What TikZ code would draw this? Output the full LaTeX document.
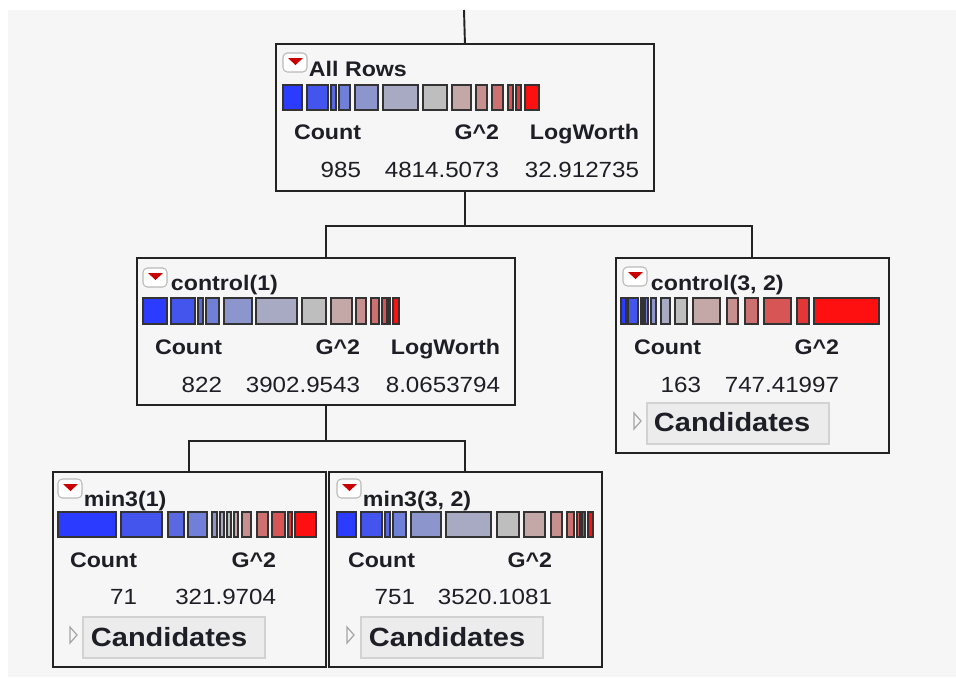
\documentclass[tikz,border=0pt]{standalone}
\usepackage{fontspec}
\setmainfont[FakeStretch=1.1]{Liberation Sans}

\definecolor{panelbg}{RGB}{246,246,246}
\definecolor{inkline}{RGB}{35,35,35}
\definecolor{inktext}{RGB}{30,30,38}
\definecolor{menured}{RGB}{200,0,0}
\definecolor{lvl1}{RGB}{43,59,255}
\definecolor{lvl2}{RGB}{68,85,238}
\definecolor{lvl3}{RGB}{90,105,225}
\definecolor{lvl4}{RGB}{112,128,216}
\definecolor{lvl5}{RGB}{140,149,204}
\definecolor{lvl6}{RGB}{168,170,196}
\definecolor{lvl7}{RGB}{190,190,190}
\definecolor{lvl8}{RGB}{196,168,168}
\definecolor{lvl9}{RGB}{200,143,143}
\definecolor{lvl10}{RGB}{205,112,112}
\definecolor{lvl11}{RGB}{215,85,85}
\definecolor{lvl12}{RGB}{225,55,55}
\definecolor{lvl13}{RGB}{255,16,16}

\begin{document}
\begin{tikzpicture}[x=0.02cm, y=-0.02cm,
                    line width=1.1pt,
                    draw=inkline]
    \tikzstyle{treebox}=[draw=inkline, fill=panelbg, anchor=north west, inner sep=0pt]
    \tikzstyle{widebox}=[treebox, minimum width=7.56cm, minimum height=2.94cm]
    \tikzstyle{narrowbox}=[treebox, minimum width=5.46cm, minimum height=3.9cm]
    \tikzstyle{barseg}=[draw=black!80, line width=1pt]
    \tikzstyle{nodetitle}=[anchor=base west, inner sep=0pt, text=inktext, font=\fontsize{12}{14}\selectfont\bfseries]
    \tikzstyle{colhead}=[anchor=base east, inner sep=0pt, text=inktext, font=\fontsize{12}{14}\selectfont\bfseries]
    \tikzstyle{colnum}=[anchor=base east, inner sep=0pt, text=inktext, font=\fontsize{12.5}{14}\selectfont]
    \tikzstyle{menuicon}=[draw=gray!55, fill=white, rounded corners=2.5pt, line width=0.6pt]
    \tikzstyle{candbtn}=[draw=gray!35, fill=gray!15, line width=0.8pt]
    \tikzstyle{candtext}=[anchor=base west, inner sep=0pt, text=inktext, font=\fontsize{15}{18}\selectfont\bfseries]
    \tikzstyle{opener}=[draw=gray!70, line width=0.7pt]

    \useasboundingbox (0,0) rectangle (956,677);
    \fill[white] (0,0) rectangle (956,677);
    \fill[panelbg] (8,10) rectangle (956,677);

    % the split boxes
    \node[widebox] (allrows) at (275,43) {};
    \node[widebox] (ctrlone) at (136,257) {};
    \node[narrowbox] (ctrlthree) at (615,257) {};
    \node[narrowbox] (minone) at (52,471) {};
    \node[narrowbox] (minthree) at (328,471) {};

    % connectors
    \coordinate (feed) at (464,10);
    \draw (feed) -- (allrows.north);
    \draw (allrows.south) -- ++(0,34) coordinate (forkA) -| (ctrlone.north);
    \draw (forkA) -| (ctrlthree.north);
    \draw (ctrlone.south) -- ++(0,35) coordinate (forkB) -| (minone.north);
    \draw (forkB) -| (minthree.north);

    % All Rows
    \begin{scope}[shift={(allrows.north west)}]
        \draw[menuicon] (8,10) rectangle (32,29);
        \fill[menured] (13,15) -- (28,15) -- (20.5,22) -- cycle;
        \node[nodetitle] (allrows-name) at (33,33) {All Rows};
        \foreach \a/\b/\c in {8/27/1, 32/53/2, 56/61/3, 64/75/4, 80/103/5, 108/143/6, 148/172/7,
                              177/196/8, 201/212/9, 217/228/10, 233/238/11, 241/246/12, 250/264/13}
            \draw[barseg, fill=lvl\c] (\a,42) rectangle (\b,67);
        \node[colhead] (allrows-count) at (87,96) {Count};
        \node[colhead] (allrows-g) at (225,96) {G\^{}2};
        \node[colhead] (allrows-lw) at (365,96) {LogWorth};
        \node[colnum] (allrows-n) at (87,134) {985};
        \node[colnum] (allrows-gv) at (225,134) {4814.5073};
        \node[colnum] (allrows-lwv) at (365,134) {32.912735};
    \end{scope}

    % control(1)
    \begin{scope}[shift={(ctrlone.north west)}]
        \draw[menuicon] (7,11) rectangle (31,30);
        \fill[menured] (12,16) -- (27,16) -- (19.5,23) -- cycle;
        \node[nodetitle] (ctrlone-name) at (34,33) {control(1)};
        \foreach \a/\b/\c in {7/31/1, 35/59/2, 62/67/3, 70/83/4, 88/116/5, 120/161/6, 166/190/7,
                              195/216/8, 220/230/9, 235/243/10, 246/251/11, 253/254/12, 257/263/13}
            \draw[barseg, fill=lvl\c] (\a,41) rectangle (\b,67);
        \node[colhead] (ctrlone-count) at (87,97) {Count};
        \node[colhead] (ctrlone-g) at (225,97) {G\^{}2};
        \node[colhead] (ctrlone-lw) at (365,97) {LogWorth};
        \node[colnum] (ctrlone-n) at (87,135) {822};
        \node[colnum] (ctrlone-gv) at (225,135) {3902.9543};
        \node[colnum] (ctrlone-lwv) at (365,135) {8.0653794};
    \end{scope}

    % control(3, 2)
    \begin{scope}[shift={(ctrlthree.north west)}]
        \draw[menuicon] (8,10) rectangle (32,29);
        \fill[menured] (13,15) -- (28,15) -- (20.5,22) -- cycle;
        \node[nodetitle] (ctrlthree-name) at (35,33) {control(3, 2)};
        \foreach \a/\b/\c in {6/11/1, 13/23/2, 26/28/3, 30/33/4, 36/41/5, 46/55/6, 60/72/7,
                              78/105/8, 112/123/9, 130/143/10, 149/176/11, 182/194/12, 199/264/13}
            \draw[barseg, fill=lvl\c] (\a,41) rectangle (\b,67);
        \node[colhead] (ctrlthree-count) at (87,97) {Count};
        \node[colhead] (ctrlthree-g) at (225,97) {G\^{}2};
        \node[colnum] (ctrlthree-n) at (87,135) {163};
        \node[colnum] (ctrlthree-gv) at (225,135) {747.41997};
        \draw[opener] (19,156) -- (26,164) -- (19,172) -- cycle;
        \draw[candbtn] (32,146) rectangle (214,187);
        \node[candtext] (ctrlthree-cand) at (38,174) {Candidates};
    \end{scope}

    % min3(1)
    \begin{scope}[shift={(minone.north west)}]
        \draw[menuicon] (6,8) rectangle (30,27);
        \fill[menured] (11,13) -- (26,13) -- (18.5,20) -- cycle;
        \node[nodetitle] (minone-name) at (31,35) {min3(1)};
        \foreach \a/\b/\c in {6/64/1, 69/110/2, 116/132/3, 136/155/4, 160/165/5, 168/172/6, 175/179/7,
                              182/186/8, 190/199/9, 205/216/10, 220/233/11, 236/240/12, 243/264/13}
            \draw[barseg, fill=lvl\c] (\a,41) rectangle (\b,66);
        \node[colhead] (minone-count) at (86,96) {Count};
        \node[colhead] (minone-g) at (225,96) {G\^{}2};
        \node[colnum] (minone-n) at (86,133) {71};
        \node[colnum] (minone-gv) at (225,133) {321.9704};
        \draw[opener] (18,156) -- (25,164) -- (18,172) -- cycle;
        \draw[candbtn] (31,146) rectangle (213,187);
        \node[candtext] (minone-cand) at (38,175) {Candidates};
    \end{scope}

    % min3(3, 2)
    \begin{scope}[shift={(minthree.north west)}]
        \draw[menuicon] (9,8) rectangle (33,27);
        \fill[menured] (14,13) -- (29,13) -- (21.5,20) -- cycle;
        \node[nodetitle] (minthree-name) at (34,35) {min3(3, 2)};
        \foreach \a/\b/\c in {9/28/1, 33/54/2, 57/62/3, 65/78/4, 83/113/5, 118/163/6, 169/191/7,
                              196/217/8, 223/234/9, 239/246/10, 249/252/11, 254/257/12, 260/265/13}
            \draw[barseg, fill=lvl\c] (\a,41) rectangle (\b,66);
        \node[colhead] (minthree-count) at (88,96) {Count};
        \node[colhead] (minthree-g) at (225,96) {G\^{}2};
        \node[colnum] (minthree-n) at (88,133) {751};
        \node[colnum] (minthree-gv) at (225,133) {3520.1081};
        \draw[opener] (19,156) -- (26,164) -- (19,172) -- cycle;
        \draw[candbtn] (33,146) rectangle (215,187);
        \node[candtext] (minthree-cand) at (40,175) {Candidates};
    \end{scope}
\end{tikzpicture}
\end{document}
